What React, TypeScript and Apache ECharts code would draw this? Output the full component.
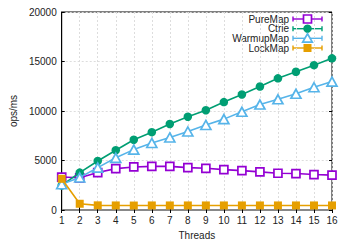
import React, { useEffect, useRef } from "react";
import * as echarts from "echarts";

const threads = [1, 2, 3, 4, 5, 6, 7, 8, 9, 10, 11, 12, 13, 14, 15, 16];
const pureMap = [3330, 3250, 3780, 4180, 4350, 4410, 4410, 4280, 4210, 4080, 3980, 3850, 3710, 3680, 3580, 3520];
const ctrie = [2480, 3780, 4950, 6040, 7100, 7860, 8690, 9420, 10080, 10900, 11670, 12470, 13300, 13960, 14630, 15320];
const warmupMap = [2600, 3280, 4280, 5270, 6100, 6770, 7330, 7930, 8590, 9180, 9920, 10650, 11180, 11740, 12400, 12970];
const lockMap = [3150, 630, 470, 460, 450, 460, 460, 460, 460, 460, 460, 460, 460, 460, 460, 460];
const yTicks = [0, 5000, 10000, 15000, 20000];
const seriesNames = ["PureMap", "Ctrie", "WarmupMap", "LockMap"];

const FONT = "Liberation Sans, Arial, sans-serif";
const TXT = "#222";

export default function App() {
  const ref = useRef<HTMLDivElement>(null);
  useEffect(() => {
    const chart = echarts.init(ref.current!, undefined, { renderer: "svg" });
    const colors = ["#9400D3", "#009E73", "#56B4E9", "#E69F00"];
    const mk = (d: number[]) => threads.map((t, i) => [t, d[i]]);
    const ls = (c: string) => ({ width: 1.6, color: c });
    const legendX0 = 293, legendX1 = 322, legendTextX = 289;
    const rowsY = [19, 28.7, 38.3, 48];
    const markerGraphic = (i: number, cx: number, cy: number) => {
      const c = colors[i];
      if (i === 0) return { type: "rect", shape: { x: cx - 4, y: cy - 4, width: 8, height: 8 }, style: { fill: "#fff", stroke: c, lineWidth: 1.7 } };
      if (i === 1) return { type: "circle", shape: { cx, cy, r: 4.2 }, style: { fill: c } };
      if (i === 2) return { type: "polygon", shape: { points: [[cx, cy - 4.5], [cx + 4.8, cy + 3.8], [cx - 4.8, cy + 3.8]] }, style: { fill: "#fff", stroke: c, lineWidth: 1.7 } };
      return { type: "rect", shape: { x: cx - 4, y: cy - 4, width: 8, height: 8 }, style: { fill: c } };
    };
    const legendGraphics: any[] = [];
    seriesNames.forEach((n, i) => {
      const y = rowsY[i];
      const c = colors[i];
      legendGraphics.push(
        { type: "text", x: legendTextX, y, style: { text: n, fill: TXT, font: `10px ${FONT}`, align: "right", verticalAlign: "middle" } },
        { type: "line", shape: { x1: legendX0, y1: y, x2: legendX1, y2: y }, style: { stroke: c, lineWidth: 1.4 } },
        { type: "line", shape: { x1: legendX0, y1: y - 2.5, x2: legendX0, y2: y + 2.5 }, style: { stroke: c, lineWidth: 1.4 } },
        { type: "line", shape: { x1: legendX1, y1: y - 2.5, x2: legendX1, y2: y + 2.5 }, style: { stroke: c, lineWidth: 1.4 } },
        markerGraphic(i, (legendX0 + legendX1) / 2, y)
      );
    });
    chart.setOption({
      animation: false,
      textStyle: { fontFamily: FONT },
      grid: { left: 60, right: 18, top: 12, bottom: 32, show: true, borderColor: "#000", borderWidth: 1, containLabel: false },
      xAxis: [
        {
          type: "value", min: 1, max: 16, interval: 1,
          name: "Threads", nameLocation: "middle", nameGap: 20,
          nameTextStyle: { color: TXT, fontSize: 10, fontFamily: FONT },
          axisLine: { show: true, lineStyle: { color: "#888", width: 2 } },
          axisTick: { show: true, inside: true, length: 3, lineStyle: { color: "#000" } },
          axisLabel: { color: TXT, fontSize: 10, fontFamily: FONT, margin: 5 },
          splitLine: { show: true, lineStyle: { color: "#ddd", type: [2, 2], width: 1 } },
        },
        {
          type: "value", position: "top", min: 1, max: 16, interval: 1,
          axisLine: { show: false }, axisLabel: { show: false },
          axisTick: { show: true, inside: true, length: 3, lineStyle: { color: "#000" } },
          splitLine: { show: false },
        },
      ],
      yAxis: [
        {
          type: "value", min: 0, max: 20000, interval: 5000,
          name: "ops/ms", nameLocation: "middle", nameGap: 42, nameRotate: 90,
          nameTextStyle: { color: TXT, fontSize: 10, fontFamily: FONT },
          axisLine: { show: true, lineStyle: { color: "#000", width: 1 } },
          axisTick: { show: true, inside: true, length: 3, lineStyle: { color: "#000" } },
          axisLabel: { color: TXT, fontSize: 10, fontFamily: FONT, margin: 5, formatter: (v: number) => (yTicks.includes(v) ? String(v) : "") },
          splitLine: { show: true, lineStyle: { color: "#ddd", type: [2, 2], width: 1 } },
        },
        {
          type: "value", position: "right", min: 0, max: 20000, interval: 5000,
          axisLine: { show: false }, axisLabel: { show: false },
          axisTick: { show: true, inside: true, length: 3, lineStyle: { color: "#000" } },
          splitLine: { show: false },
        },
      ],
      series: [
        { type: "line", name: seriesNames[0], data: mk(pureMap), lineStyle: ls(colors[0]), symbol: "rect", symbolSize: 8, itemStyle: { color: "#fff", borderColor: colors[0], borderWidth: 1.7 }, z: 3 },
        { type: "line", name: seriesNames[1], data: mk(ctrie), lineStyle: ls(colors[1]), symbol: "circle", symbolSize: 8.5, itemStyle: { color: colors[1] }, z: 4 },
        { type: "line", name: seriesNames[2], data: mk(warmupMap), lineStyle: ls(colors[2]), symbol: "triangle", symbolSize: [10, 9], itemStyle: { color: "#fff", borderColor: colors[2], borderWidth: 1.7 }, z: 5 },
        { type: "line", name: seriesNames[3], data: mk(lockMap), lineStyle: ls(colors[3]), symbol: "rect", symbolSize: 8, itemStyle: { color: colors[3] }, z: 6 },
      ],
      graphic: legendGraphics,
    });
    return () => chart.dispose();
  }, []);
  return <div ref={ref} style={{ width: 350, height: 245, marginLeft: -8, marginTop: -8 }} />;
}
